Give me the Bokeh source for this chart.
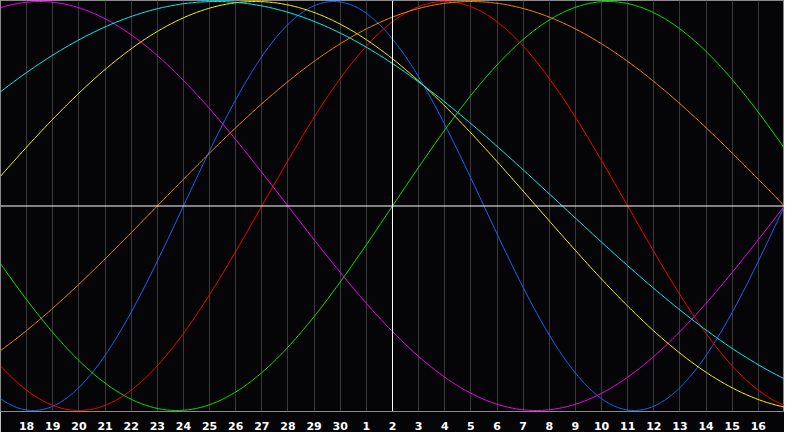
import numpy as np
from bokeh.plotting import figure
from bokeh.models import Range1d, FixedTicker, Span
from bokeh.embed import file_html
from bokeh.resources import INLINE

# Day labels along the bottom (ticks at day index 1..29; index 0 = the 17th)
day_labels = [18, 19, 20, 21, 22, 23, 24, 25, 26, 27, 28, 29, 30,
              1, 2, 3, 4, 5, 6, 7, 8, 9, 10, 11, 12, 13, 14, 15, 16]
today_index = 15          # the white vertical line (day "2")
n_days = 30

# Biorhythm cycles: length (days) and the day index at which each rises through zero
cycle_names = ["physical", "emotional", "intellectual", "intuitive",
               "aesthetic", "awareness", "spiritual"]
cycle_periods = [23, 28, 33, 38, 43, 48, 53]
cycle_zero_rise = [7.0, 10.0, 15.0, 30.0, -1.0, 6.0, -5.0]
cycle_colors = ["#1a66ff", "#ff0000", "#00ee00", "#ff00ff",
                "#ffff00", "#ff8800", "#00ffff"]

p = figure(width=784, height=432, output_backend="svg", toolbar_location=None,
           x_range=Range1d(0, n_days), y_range=Range1d(-1.005, 1.005),
           min_border_left=0, min_border_right=0, min_border_top=0, min_border_bottom=0)
p.background_fill_color = "#050508"
p.border_fill_color = "#050508"
p.outline_line_color = "#8a8a8a"
p.outline_line_width = 1

p.yaxis.visible = False
p.ygrid.visible = False

ticks = list(range(1, n_days))
p.xaxis.ticker = FixedTicker(ticks=ticks)
p.xaxis.major_label_overrides = {t: str(d) for t, d in zip(ticks, day_labels)}
p.xaxis.axis_line_color = None
p.xaxis.major_tick_line_color = None
p.xaxis.minor_tick_line_color = None
p.xaxis.major_label_text_color = "#ffffff"
p.xaxis.major_label_text_font = "DejaVu Sans"
p.xaxis.major_label_text_font_style = "bold"
p.xaxis.major_label_text_font_size = "11px"
p.xaxis.major_label_standoff = 4

p.xgrid.ticker = FixedTicker(ticks=ticks)
p.xgrid.grid_line_color = "#3a3a3a"
p.xgrid.grid_line_width = 1

p.add_layout(Span(location=0, dimension="width", line_color="#ffffff", line_width=1))
p.add_layout(Span(location=today_index, dimension="height", line_color="#ffffff", line_width=1))

t = np.linspace(0, n_days, 601)
for name, per, z, col in zip(cycle_names, cycle_periods, cycle_zero_rise, cycle_colors):
    y = np.sin(2 * np.pi * (t - z) / per)
    p.line(t, y, line_color=col, line_width=1)

open("out.html", "w").write(file_html(p, INLINE))
